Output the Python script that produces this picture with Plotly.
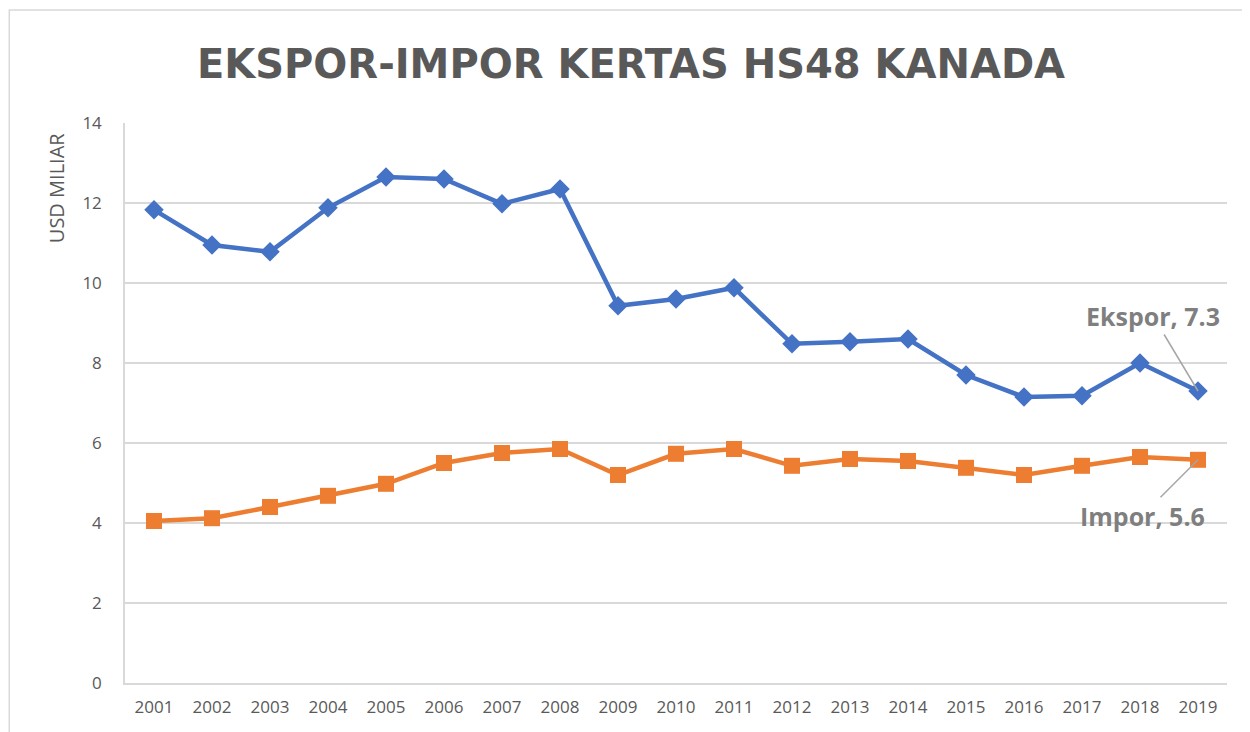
import plotly.graph_objects as go

years = [str(y) for y in range(2001, 2020)]
ekspor = [11.83, 10.95, 10.78, 11.88, 12.65, 12.6, 11.98, 12.35, 9.43, 9.6, 9.88,
          8.48, 8.53, 8.6, 7.7, 7.15, 7.18, 8.0, 7.3]
impor = [4.05, 4.12, 4.4, 4.68, 4.98, 5.5, 5.75, 5.85, 5.2, 5.73, 5.85,
         5.43, 5.6, 5.55, 5.38, 5.2, 5.43, 5.65, 5.58]
y_ticks = [0, 2, 4, 6, 8, 10, 12, 14]

BLUE = "#4472C4"
ORANGE = "#ED7D31"
GRAY = "#595959"
FONT = "Open Sans"

# page body has an 8px margin: shrink figure so the plot lands where the reference's does
OFF = 8

fig = go.Figure()
fig.add_trace(go.Scatter(x=years, y=ekspor, mode="lines+markers", name="Ekspor",
                         line=dict(color=BLUE, width=4.5),
                         marker=dict(symbol="diamond", size=15, color=BLUE)))
fig.add_trace(go.Scatter(x=years, y=impor, mode="lines+markers", name="Impor",
                         line=dict(color=ORANGE, width=4.5),
                         marker=dict(symbol="square", size=16, color=ORANGE)))

last = len(years) - 1
fig.add_annotation(x=last, y=ekspor[-1], text=f"<b>Ekspor, {ekspor[-1]:.1f}</b>",
                   showarrow=True, arrowhead=0, arrowwidth=1.5, arrowcolor="#A6A6A6",
                   ax=-45, ay=-75, font=dict(family=FONT, size=25, color="#7F7F7F"))
fig.add_annotation(x=last, y=impor[-1], text=f"<b>Impor, {impor[-1]:.1f}</b>",
                   showarrow=True, arrowhead=0, arrowwidth=1.5, arrowcolor="#A6A6A6",
                   ax=-56, ay=56, font=dict(family=FONT, size=25, color="#7F7F7F"))

# y-axis title placed at the top of the axis, as in the reference
fig.add_annotation(xref="paper", yref="paper", x=-0.062, y=0.9875, xanchor="center",
                   yanchor="top", text="USD MILIAR", textangle=-90, showarrow=False,
                   font=dict(family=FONT, size=20, color=GRAY))

# outer chart border
fig.add_shape(type="rect", xref="paper", yref="paper", x0=-0.105, x1=1.2, y0=-0.2, y1=1.2018,
              line=dict(color="#D9D9D9", width=1.5), fillcolor="rgba(0,0,0,0)", layer="below")

fig.update_layout(
    width=1250 - OFF, height=732 - OFF,
    margin=dict(l=125 - OFF, r=23, t=123 - OFF, b=49),
    paper_bgcolor="white", plot_bgcolor="white",
    showlegend=False,
    title=dict(text="<b>EKSPOR-IMPOR KERTAS HS48 KANADA</b>", x=0.5016, xanchor="center",
               y=(732 - 64) / (732 - OFF), yanchor="middle",
               font=dict(family="DejaVu Sans", size=40, color=GRAY)),
    xaxis=dict(type="category", range=[-0.5, 18.5], showgrid=False,
               showline=True, linecolor="#D9D9D9", linewidth=1.5,
               ticks="", ticklabelstandoff=8,
               tickfont=dict(family=FONT, size=17, color=GRAY)),
    yaxis=dict(range=[0, 14], tickvals=y_ticks, showgrid=True, gridcolor="#D9D9D9",
               gridwidth=1.5, showline=True, linecolor="#D9D9D9", linewidth=1.5,
               zeroline=False, ticks="", ticklabelstandoff=18,
               tickfont=dict(family=FONT, size=17, color=GRAY)),
)

fig.write_html("out.html")
